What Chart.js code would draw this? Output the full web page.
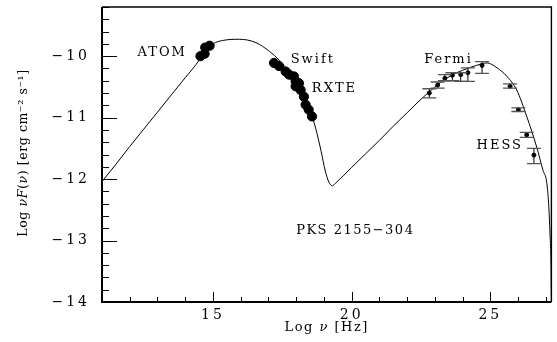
<!DOCTYPE html>
<html>
<head>
<meta charset="utf-8">
<script src="https://cdn.jsdelivr.net/npm/chart.js@4.4.0/dist/chart.umd.min.js"></script>
<style>
  html, body { margin: 0; padding: 0; background: #fff; }
  #wrap { width: 557px; height: 342px; }
</style>
</head>
<body>
<div id="wrap"><canvas id="sed"></canvas></div>
<script>
// SSC model curve: log nu [Hz] vs log nuF(nu)
const modelNu = [11.0, 11.5, 12.0, 12.5, 13.0, 13.5, 14.0, 14.4, 14.7, 15.0, 15.35, 15.95, 16.55, 17.03,
  17.4, 17.8, 18.2, 18.5, 18.7, 18.9, 19.05, 19.18, 19.3, 19.41, 20.0, 20.5, 21.0, 21.5, 22.0, 22.5,
  22.8, 23.2, 23.6, 24.0, 24.5, 24.88, 25.24, 25.6, 25.95, 26.31, 26.67, 26.9, 27.03, 27.1, 27.15, 27.19, 27.2];
const modelFlux = [-12.04, -11.76, -11.47, -11.19, -10.91, -10.63, -10.35, -10.13, -9.93, -9.80, -9.745, -9.725, -9.78, -9.92,
  -10.07, -10.29, -10.56, -10.88, -11.17, -11.55, -11.87, -12.05, -12.11, -12.07, -11.81, -11.59, -11.37, -11.14, -10.92, -10.70,
  -10.58, -10.43, -10.31, -10.23, -10.15, -10.11, -10.19, -10.33, -10.55, -10.98, -11.48, -11.86, -12.05, -12.4, -12.9, -13.5, -14.0];

// ATOM optical points
const atomNu = [14.55, 14.70, 14.72, 14.88];
const atomFlux = [-10.00, -9.96, -9.86, -9.83];

// Swift / RXTE X-ray points
const xrayNu = [17.20, 17.38, 17.62, 17.74, 17.92, 17.98, 18.10, 17.98, 18.16, 18.28, 18.34, 18.45, 18.57];
const xrayFlux = [-10.11, -10.16, -10.25, -10.30, -10.33, -10.41, -10.44, -10.49, -10.55, -10.66, -10.79, -10.87, -10.98];

// Fermi points with errors
const fermiNu = [22.80, 23.10, 23.36, 23.63, 23.93, 24.19, 24.70];
const fermiFlux = [-10.60, -10.47, -10.36, -10.31, -10.30, -10.27, -10.15];
const fermiLo = [-10.68, -10.52, -10.40, -10.40, -10.41, -10.41, -10.28];
const fermiHi = [-10.53, -10.42, -10.30, -10.27, -10.27, -10.19, -10.09];

// HESS points with errors
const hessNu = [25.71, 26.01, 26.31, 26.57];
const hessFlux = [-10.49, -10.87, -11.28, -11.61];
const hessLo = [-10.52, -10.90, -11.32, -11.75];
const hessHi = [-10.45, -10.84, -11.24, -11.50];

// axis ticks with labels
const xLabelTicks = [15, 20, 25];
const yLabelTicks = [-14, -13, -12, -11, -10];

const FONT = 'DejaVu Serif';

function toPoints(xs, ys) {
  return xs.map((v, i) => ({ x: v, y: ys[i] }));
}

// draw a string made of [text, italic] pieces, centred at 0,0 of the current transform
function drawPieces(ctx, pieces, size) {
  const fontOf = (it) => (it ? 'italic ' : '') + size + 'px "' + FONT + '"';
  let total = 0;
  pieces.forEach(([t, it]) => { ctx.font = fontOf(it); total += ctx.measureText(t).width; });
  let cx = -total / 2;
  ctx.textAlign = 'left';
  ctx.textBaseline = 'middle';
  pieces.forEach(([t, it]) => {
    ctx.font = fontOf(it);
    ctx.fillText(t, cx, 0);
    cx += ctx.measureText(t).width;
  });
}

// letter spacing for the tick labels
const spacing = {
  id: 'spacing',
  beforeDraw(chart) { chart.ctx.letterSpacing = '3px'; },
  afterDraw(chart) { chart.ctx.letterSpacing = '0px'; }
};

// error bars for Fermi and HESS
const errorBars = {
  id: 'errorBars',
  afterDatasetsDraw(chart) {
    const { ctx, scales: { x, y } } = chart;
    ctx.save();
    const sets = [[fermiNu, fermiLo, fermiHi], [hessNu, hessLo, hessHi]];
    sets.forEach(([nu, lo, hi]) => {
      nu.forEach((v, i) => {
        const px = x.getPixelForValue(v);
        const pLo = y.getPixelForValue(lo[i]);
        const pHi = y.getPixelForValue(hi[i]);
        ctx.strokeStyle = '#000';
        ctx.lineWidth = 1;
        ctx.beginPath();
        ctx.moveTo(px, pLo);
        ctx.lineTo(px, pHi);
        ctx.stroke();
        ctx.strokeStyle = '#555';
        ctx.lineWidth = 1.3;
        ctx.beginPath();
        ctx.moveTo(px - 7, pLo); ctx.lineTo(px + 7, pLo);
        ctx.moveTo(px - 7, pHi); ctx.lineTo(px + 7, pHi);
        ctx.stroke();
      });
    });
    ctx.restore();
  }
};

// inward ticks, frame, axis titles and text labels
const frame = {
  id: 'frame',
  afterDraw(chart) {
    const { ctx, chartArea: a, scales: { x, y } } = chart;
    ctx.save();
    ctx.strokeStyle = '#000';
    ctx.lineWidth = 1;
    ctx.beginPath();
    for (let v = 11; v <= 27; v++) {
      const px = Math.round(x.getPixelForValue(v)) + 0.5;
      const len = v % 5 === 0 ? 10 : 5;
      ctx.moveTo(px, a.bottom);
      ctx.lineTo(px, a.bottom - len);
    }
    for (let k = 0; k <= 24; k++) {
      const v = -14 + k * 0.2;
      const py = Math.round(y.getPixelForValue(v)) + 0.5;
      const len = k % 5 === 0 ? 15 : 7;
      ctx.moveTo(a.left, py);
      ctx.lineTo(a.left + len, py);
    }
    ctx.stroke();

    ctx.lineWidth = 1.4;
    ctx.beginPath();
    ctx.moveTo(a.left, a.top);
    ctx.lineTo(a.right, a.top);
    ctx.lineTo(a.right, a.bottom);
    ctx.stroke();
    ctx.lineWidth = 2;
    ctx.beginPath();
    ctx.moveTo(a.left, a.top);
    ctx.lineTo(a.left, a.bottom);
    ctx.lineTo(a.right, a.bottom);
    ctx.stroke();

    ctx.fillStyle = '#000';

    // axis titles
    ctx.letterSpacing = '1.5px';
    ctx.save();
    ctx.translate((a.left + a.right) / 2, 328);
    drawPieces(ctx, [['Log ', false], ['\u03bd', true], [' [Hz]', false]], 13);
    ctx.restore();
    ctx.letterSpacing = '0.6px';
    ctx.save();
    ctx.translate(24, 153);
    ctx.rotate(-Math.PI / 2);
    drawPieces(ctx, [['Log ', false], ['\u03bdF', true], ['(', false], ['\u03bd', true],
      [') [erg cm\u207b\u00b2 s\u207b\u00b9]', false]], 12.5);
    ctx.restore();

    // annotations
    ctx.font = '13px "' + FONT + '"';
    ctx.textAlign = 'center';
    ctx.textBaseline = 'middle';
    const notes = [
      ['ATOM', 13.17, -9.94, 2],
      ['Swift', 18.6, -10.05, 2],
      ['RXTE', 19.38, -10.53, 2],
      ['Fermi', 23.49, -10.05, 2],
      ['HESS', 25.34, -11.45, 2],
      ['PKS 2155\u2212304', 20.13, -12.84, 1.5]
    ];
    notes.forEach(([t, v, f, sp]) => {
      ctx.letterSpacing = sp + 'px';
      ctx.fillText(t, x.getPixelForValue(v), y.getPixelForValue(f));
    });
    ctx.restore();
  }
};

new Chart(document.getElementById('sed'), {
  type: 'scatter',
  data: {
    datasets: [
      {
        type: 'line',
        data: toPoints(modelNu, modelFlux),
        borderColor: '#000',
        borderWidth: 1,
        pointRadius: 0,
        cubicInterpolationMode: 'monotone',
        fill: false
      },
      {
        data: toPoints(atomNu, atomFlux),
        backgroundColor: '#000',
        borderColor: '#000',
        pointRadius: 4.6
      },
      {
        data: toPoints(xrayNu, xrayFlux),
        backgroundColor: '#000',
        borderColor: '#000',
        pointRadius: 4.6
      },
      {
        data: toPoints(fermiNu, fermiFlux),
        backgroundColor: '#000',
        borderColor: '#000',
        pointRadius: 2
      },
      {
        data: toPoints(hessNu, hessFlux),
        backgroundColor: '#000',
        borderColor: '#000',
        pointRadius: 2
      }
    ]
  },
  options: {
    responsive: true,
    maintainAspectRatio: false,
    animation: false,
    layout: { padding: { top: 7, right: 2, left: 0, bottom: 0 } },
    plugins: {
      legend: { display: false },
      tooltip: { enabled: false }
    },
    scales: {
      x: {
        type: 'linear',
        min: 11,
        max: 27.2,
        grid: { display: false, drawTicks: false },
        border: { display: false },
        afterFit(scale) {
          scale.height = 40;
          scale.paddingLeft = 0;
          scale.paddingRight = 0;
        },
        ticks: {
          stepSize: 1,
          autoSkip: false,
          maxRotation: 0,
          padding: 5,
          color: '#000',
          font: { family: FONT, size: 14 },
          callback: (v) => xLabelTicks.includes(v) ? String(v) : ''
        }
      },
      y: {
        type: 'linear',
        min: -14,
        max: -9.2,
        grid: { display: false, drawTicks: false },
        border: { display: false },
        afterFit(scale) {
          scale.width = 102;
          scale.paddingTop = 0;
          scale.paddingBottom = 0;
        },
        ticks: {
          stepSize: 1,
          autoSkip: false,
          padding: 12,
          color: '#000',
          font: { family: FONT, size: 14 },
          callback: (v) => yLabelTicks.includes(v) ? '\u2212' + Math.abs(v) : ''
        }
      }
    }
  },
  plugins: [spacing, errorBars, frame]
});
</script>
</body>
</html>
